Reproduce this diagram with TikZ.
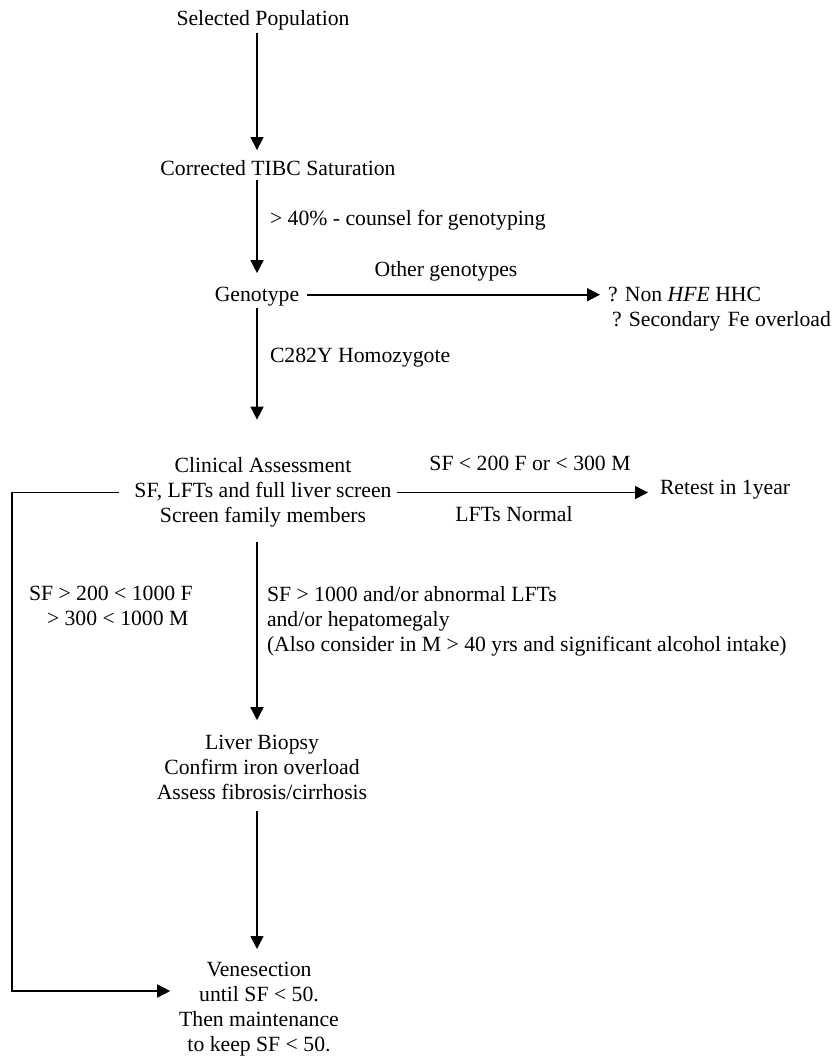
\documentclass[tikz,border=0pt]{standalone}
\usepackage{fontspec}
\setmainfont{Liberation Serif}
\usetikzlibrary{arrows.meta}
\tikzset{%
  >={Triangle[width=13pt,length=13pt]},
  % Specifications for style of nodes:
       base/.style = {inner sep=0pt, outer sep=0pt,
                      font=\fontsize{21.7}{25}\selectfont},
      stage/.style = {base, align=center},
  condition/.style = {base, align=left, anchor=west},
}

\begin{document}
\begin{tikzpicture}[x=1pt, y=-1pt, line width=1.6pt]
\useasboundingbox (0,0) rectangle (835,1056);

\node (Pop)    [stage] at (263,20)    {Selected Population};

\node (TIBC)   [stage] at (278,167.7) {Corrected TIBC Saturation};

\node (Sat)    [condition] at (270,220) {> 40\% - counsel for genotyping};

\node (Geno)   [stage] at (257,296.7) {Genotype};

\node (Other)  [stage] at (446,271)   {Other genotypes};

\node (NonHFE) [condition] at (608,309.5)
  {? Non \textit{HFE} HHC\\\hspace*{4pt}? Secondary\hspace{2pt} Fe overload};

\node (Homo)   [condition] at (270,358) {C282Y Homozygote};

\node (Clin)   [stage] at (263,492.5)
  {Clinical Assessment\\SF, LFTs and full liver screen\\Screen family members};

\node (Low)    [stage] at (530,463)   {SF < 200 F or < 300 M};

\node (Normal) [stage] at (514,514.5) {LFTs Normal};

\node (Retest) [condition] at (660,490) {Retest in 1year};

\node (Mid)    [condition] at (29,606)
  {SF > 200 < 1000 F\\\hspace*{18pt}> 300 < 1000 M};

\node (High)   [condition] at (267,621)
  {SF > 1000 and/or abnormal LFTs\\and/or hepatomegaly\\(Also consider in M > 40 yrs and significant alcohol intake)};

\node (Biopsy) [stage] at (262,767.5)
  {Liver Biopsy\\Confirm iron overload\\Assess fibrosis/cirrhosis};

\node (Vene)   [stage] at (259,1009)
  {Venesection\\until SF < 50.\\Then maintenance\\to keep SF < 50.};

\coordinate (Back) at (12,991);

\draw[->, shorten <=3pt, shorten >=10pt]  (Pop.south -| Geno) -- (TIBC.north -| Geno);
\draw[->, shorten <=5pt, shorten >=14pt]  (TIBC.south -| Geno) -- (Geno.north);
\draw[->, shorten <=8pt, shorten >=8pt]   ([yshift=2pt]Geno.east) -- ([yshift=2pt]Geno.east -| NonHFE.west);
\draw[->, shorten <=2pt, shorten >=38pt]  (Geno.south) -- (Clin.north -| Geno);
\draw[->, shorten <=5pt, shorten >=12pt]  (Clin.east) -- (Clin.east -| Retest.west);
\draw[->, shorten <=15pt, shorten >=15pt] (Clin.south -| Geno) -- (Biopsy.north -| Geno);
\draw[->, shorten <=11.5pt, shorten >=13pt] (Biopsy.south -| Geno) -- (Vene.north -| Geno);
\draw[->, shorten <=15pt, shorten >=9pt]  (Clin.west) -| (Back) -- (Back -| Vene.west);
  \end{tikzpicture}
\end{document}
